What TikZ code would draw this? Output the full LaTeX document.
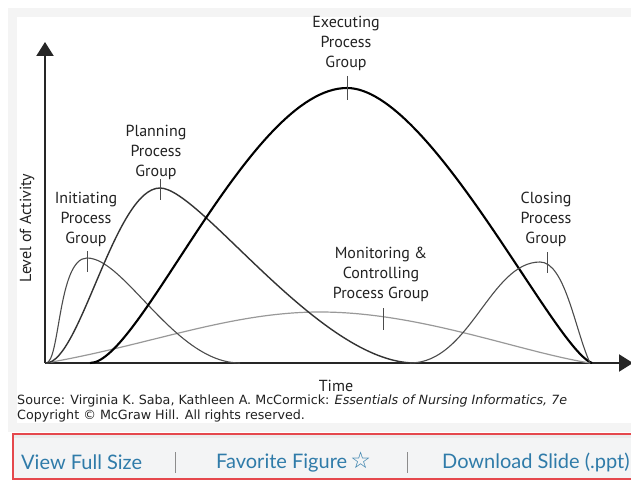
\documentclass[tikz,border=0pt]{standalone}
\usepackage{fontspec}
\setmainfont{PT Sans}
\newfontfamily\srcfont{DejaVu Sans}
\newfontfamily\barfont{Lato}
\newfontfamily\symfont{DejaVu Sans}
\usetikzlibrary{arrows.meta}
\definecolor{framegray}{HTML}{F4F4F4}
\definecolor{barred}{HTML}{E5484D}
\definecolor{barfill}{HTML}{F3F4F5}
\definecolor{linkblue}{HTML}{2F7BA9}
\definecolor{txt}{HTML}{222222}
\tikzset{
  axisline/.style={line width=2pt, draw=black!85, -{Triangle[length=14pt,width=17pt]}},
  curvethin/.style={line width=1.1pt, draw=black!70},
  curvemid/.style={line width=1.4pt, draw=black!80},
  curvethick/.style={line width=2.1pt, draw=black},
  curvelight/.style={line width=1.2pt, draw=black!40},
  peaktick/.style={line width=1pt, draw=black!70},
  grouplabel/.style={align=center, text=txt, font=\fontsize{16}{20}\selectfont, inner sep=0pt},
  srcline/.style={anchor=west, text=txt, font=\srcfont\fontsize{12.7}{14}\selectfont, inner sep=0pt},
  barlink/.style={text=linkblue, font=\barfont\fontsize{20}{22}\selectfont, inner sep=0pt},
  barsep/.style={draw=black!45, line width=0.8pt}
}
\begin{document}
\begin{tikzpicture}[x=1pt,y=-1pt]
\useasboundingbox (0,0) rectangle (631,481);
\fill[white] (0,0) rectangle (631,481);
\fill[framegray] (8,8) rectangle (631,432);
\fill[white] (17,17) rectangle (631,423);
% axes
\coordinate (O) at (45,363);
\coordinate (ytop) at (45,42);
\coordinate (xend) at (633,363);
\draw[axisline] (O) -- (ytop);
\draw[axisline] (O) -- (xend);
% monitoring
\draw[curvelight] (46,363) .. controls (150,345) and (230,312) .. (320,312)
  .. controls (420,312) and (520,352) .. (590,363);
% initiating
\draw[curvethin] (46,363) .. controls (60,363) and (58,258) .. (87,258)
  .. controls (125,258) and (175,363) .. (240,363);
% planning
\draw[curvemid] (46,363) .. controls (80,363) and (115,188) .. (160,188)
  .. controls (200,188) and (320,363) .. (415,363);
% executing
\draw[curvethick] (90,363) .. controls (140,363) and (250,88) .. (347,88)
  .. controls (430,88) and (555,350) .. (592,363);
% closing
\draw[curvethin] (410,363) .. controls (470,363) and (490,262) .. (540,262)
  .. controls (565,262) and (575,330) .. (590,363);
% ticks
\coordinate (ti1) at (87,251); \coordinate (ti2) at (87,272);
\coordinate (tp1) at (160,179); \coordinate (tp2) at (160,200);
\coordinate (te1) at (347,76); \coordinate (te2) at (347,100);
\coordinate (tm1) at (383,308); \coordinate (tm2) at (383,330);
\coordinate (tc1) at (547,252); \coordinate (tc2) at (547,273);
\draw[peaktick] (ti1) -- (ti2);
\draw[peaktick] (tp1) -- (tp2);
\draw[peaktick] (te1) -- (te2);
\draw[peaktick] (tm1) -- (tm2);
\draw[peaktick] (tc1) -- (tc2);
% labels
\node[grouplabel] (lexec) at (346,43) {Executing\\Process\\Group};
\node[grouplabel] (lplan) at (156,152) {Planning\\Process\\Group};
\node[grouplabel] (linit) at (86,219) {Initiating\\Process\\Group};
\node[grouplabel] (lclose) at (546,219) {Closing\\Process\\Group};
\node[grouplabel] (lmon) at (381,274) {Monitoring \&\\Controlling\\Process Group};
\node[grouplabel, rotate=90] (ylab) at (27,228) {Level of Activity};
\node[grouplabel] (xlab) at (336,386) {Time};
% source
\node[srcline] (src1) at (17,401) {Source: Virginia K. Saba, Kathleen A. McCormick: \textit{Essentials of Nursing Informatics, 7e}};
\node[srcline] (src2) at (17,416) {Copyright \textcopyright{} McGraw Hill. All rights reserved.};
% bottom bar
\fill[barfill] (13,434) rectangle (640,479);
\fill[black!8] (13,435) rectangle (640,438);
\draw[barred, line width=2.5pt] (13,434) rectangle (640,479);
\node[barlink, anchor=west] (v1) at (21,462) {View Full Size};
\node[barlink, anchor=west] (v2) at (216,462) {Favorite Figure\,{\symfont\fontsize{23}{24}\selectfont ☆}};
\node[barlink, anchor=west] (v3) at (442,462) {Download Slide (.ppt)};
\coordinate (s1a) at (175,452); \coordinate (s1b) at (175,473);
\coordinate (s2a) at (407,452); \coordinate (s2b) at (407,473);
\draw[barsep] (s1a) -- (s1b);
\draw[barsep] (s2a) -- (s2b);
\end{tikzpicture}
\end{document}
